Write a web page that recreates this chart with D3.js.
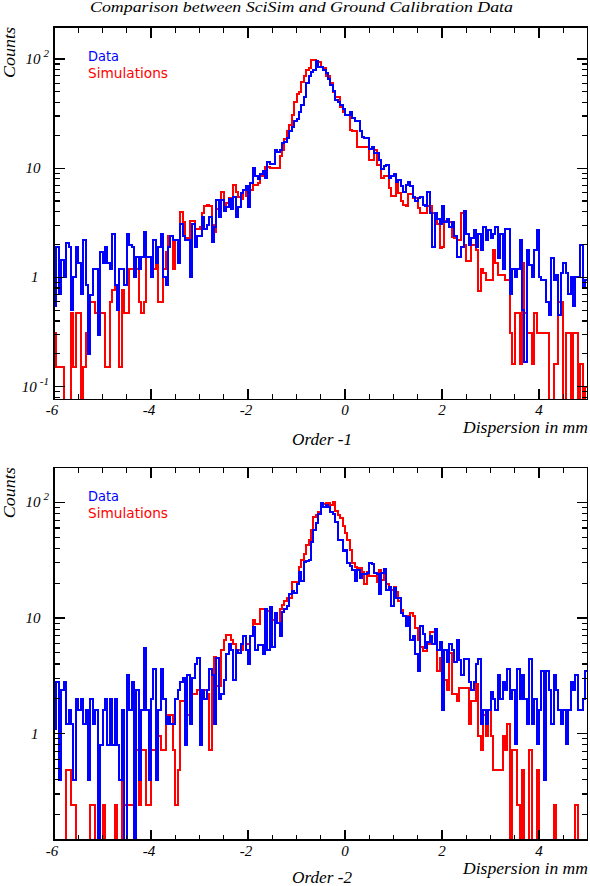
<!DOCTYPE html>
<html><head><meta charset="utf-8">
<script src="https://cdn.jsdelivr.net/npm/d3@7"></script>
<style>body{margin:0;background:#fff;}svg{display:block;}</style>
</head><body>
<svg id="chart" width="590" height="886"></svg>
<script>
// ---------------- data ----------------
const xMin = -6, xMax = 5, binWidth = 0.05;
const xTickValues = [-6, -4, -2, 0, 2, 4];
const xTickLabels = ["-6", "-4", "-2", "0", "2", "4"];
const titleText = "Comparison between SciSim and Ground Calibration Data";
const panelNames = ["Order -1", "Order -2"];
const legendNames = ["Data", "Simulations"];

const dataTop = [
0.55,1.9,0.7,1.45,1.0,2.05,1.9,0.5,1.0,1.9,
1.35,0.7,2.2,0.85,0.2,0.69,1.2,1.2,0.3,1.7,
1.35,1.9,1.35,1.2,2.5,0.85,0.5,1.2,1.2,0.85,
2.5,2.0,1.9,1.0,1.55,1.2,1.55,2.6,1.55,1.55,
1.0,2.2,1.35,1.9,2.5,1.0,0.85,1.9,2.4,2.2,
2.2,1.35,3.1,2.4,2.2,2.2,1.0,3.1,1.9,2.4,
2.4,3.6,2.8,3.0,3.6,2.1,2.9,5.1,3.6,5.1,
4.1,4.4,5.2,4.2,5.4,3.6,4.4,5.9,6.3,6.8,
4.4,7.3,10.0,8.4,8.0,8.8,9.4,8.2,11.5,11.0,
11.0,14.7,14.2,14.7,16.9,17.5,19.0,22.0,24.0,27.0,
28,33,38,45,60,70,76,80,95,85,
84,80,74,65,58,51,42,40,38,35,
31,31,33,29,27,27,22,19.5,19,19,
15,15.5,13.8,13.8,11.9,9.9,10.5,10.8,8.1,8.5,
8.9,7.5,7.8,6.8,6.0,7.0,7.5,6.8,5.5,5.0,
5.3,5.5,4.6,4.5,6.0,3.9,1.9,3.9,3.4,3.1,
4.5,3.2,3.4,2.9,3.2,2.4,1.55,1.55,1.9,4.1,
2.5,2.0,2.3,2.7,1.9,2.5,1.8,2.9,2.2,2.7,
2.3,2.5,2.9,1.5,2.5,1.2,2.8,2.8,0.7,1.2,
1.0,1.2,2.2,0.5,0.17,1.8,1.3,1.0,1.8,2.7,
1.0,0.95,0.95,0.6,0.45,1.5,0.95,1.05,0.45,1.1,
1.35,1.1,0.7,1.0,0.55,1.0,1.0,2.0,0.8,0.95
];
const simTop = [
0.31,0.15,0.15,0.15,0,0,0,0.47,0.15,0.47,
0.47,0,0.15,0.31,0.6,0.6,0.6,0.47,0.31,0.47,
0.47,0.15,0.15,0.6,0.77,0.85,0.85,0.15,0.77,0.47,
0.47,1.2,1.2,1.2,1.2,0.6,0.47,0.6,1.55,1.55,
1.1,1.2,1.7,0.6,0.6,1.2,1.7,2.4,2.4,1.2,
2.2,2.2,4.0,3.2,2.2,2.3,3.3,3.3,2.8,2.8,
2.9,3.9,4.5,4.6,4.5,3.0,2.6,4.2,3.8,6.1,
4.6,4.8,5.3,5.3,7.0,6.0,5.4,5.2,6.3,5.6,
6.3,6.3,7.0,7.0,7.3,8.4,8.4,10.3,10.3,10.0,
10.0,10.0,10.0,12.8,14.7,18.5,22,25,31,40,
48,50,62,70,79,82,97,97,93,93,
85,82,70,70,60,50,45,45,36,33,
31,31,22.5,22,22,15.5,15.5,15.5,15.5,15.5,
11.9,11.9,14.7,10.7,10.7,8.1,8.4,8.4,6.6,5.6,
5.6,7.3,5.9,5.0,4.6,4.5,5.8,5.8,5.3,5.3,
4.3,3.9,3.9,3.9,4.5,4.5,3.9,3.3,3.1,1.85,
1.9,3.3,3.2,3.2,2.35,2.3,2.2,2.2,3.86,2.0,
1.4,1.4,2.0,2.0,1.8,0.75,1.2,1.1,0.95,0.95,
0.95,1.8,1.35,1.05,1.05,1.05,0.95,0.95,0.31,0.16,
0.47,0.47,0.16,1.35,0.47,0.31,0.31,0.16,0.47,0.31,
0.31,0.31,0.31,0.31,0,0,0.16,0.16,0.6,0.6,
0,0.31,0.31,0,0.31,0.31,0,0.16,0,0.1
];
const dataBot = [
1.1,2.8,0.4,2.4,2.8,1.2,1.6,1.2,0.4,2.0,
1.6,2.0,1.2,1.6,0.4,2.0,1.2,1.6,0,0.8,
1.6,2.0,0.8,2.0,0.8,2.0,0.8,0.4,1.6,0,
3.2,1.6,2.8,0,2.4,0.4,1.6,5.5,1.6,0.4,
2.0,3.6,0.4,1.6,3.6,2.0,1.2,1.4,1.2,1.2,
2.0,2.4,2.8,3.0,0.8,3.2,1.2,3.0,4.0,4.5,
0.8,2.4,2.0,2.4,3.6,3.2,1.2,4.5,2.0,2.2,
2.9,4.9,6.0,5.3,2.9,5.3,5.0,6.0,7.0,5.3,
4.0,7.0,8.4,5.3,5.8,5.8,4.9,12.0,5.3,12.5,
5.6,11.0,9.0,7.0,11.2,12.0,12.8,16.0,17.0,16.5,
19.5,25.0,21.0,30.5,31.0,31.5,45.8,58.0,66.0,80.0,
98,92,94,92,82,80,68,47,47,38,
39,30,28,26,21,26,22,24,24,24.3,
30,29.5,24.3,24,16.2,24.3,26.5,17.6,18.6,12.8,
18,14.8,15,11,10.5,8.5,10.2,6.5,7.0,4.9,
3.5,8.6,7.3,5.5,6.2,7.0,6.0,8.0,5.3,6.2,
1.6,5.3,4.2,6.0,5.3,4.2,6.4,4.3,3.2,4.4,
4.4,2.8,2.4,2.8,4.0,4.4,1.2,1.6,1.2,1.6,
2.3,2.0,1.6,3.2,2.0,2.8,2.4,3.6,2.0,2.4,
0.82,3.6,2.0,3.2,2.0,1.2,4.4,1.2,2.0,0.82,
1.6,3.5,0.4,3.5,2.4,1.2,3.2,2.4,1.6,1.2,
1.6,0.82,1.6,2.8,2.4,3.2,1.6,1.6,2.0,3.5
];
const simBot = [
0,0,0,0,0,0.48,0.48,0.24,0.24,0,
0,0,0,0,0,0.24,0.24,0,0,0,
0.24,0,0,0,0,0.24,0,0,0.72,0.24,
0.24,0.24,0.24,0.24,0.72,0.24,0.72,0.72,0.24,0.24,
0.72,0.72,0.96,0.96,0.72,0.72,1.45,1.45,1.45,0.72,
0.24,0.48,1.9,1.9,1.45,1.45,2.4,2.2,2.2,2.4,
2.4,2.4,2.4,2.2,0.72,3.1,4.6,2.6,2.6,5.3,
6.5,7.1,7.1,6.4,5.9,5.3,5.3,5.3,7.0,5.9,
5.9,7.0,9.6,8.8,8.8,12.0,12.0,11.5,11.5,11.5,
9.6,9.0,9.0,12.0,13.0,14.0,14.8,14.8,20.6,20.6,
20.0,27.7,31.6,35.7,42.7,47.0,58.0,75.0,78.0,82.0,
92,96,98,98,95,100,84,78,73,63,
54,47,38.5,30,27.7,26.8,26.8,25,19.6,25,
23,23,23,20.6,25.9,21.3,24.3,19.6,18.6,17.3,
18.6,16.8,14,11.8,10.4,10.0,10.5,11.0,10.5,8.2,
6.4,5.6,5.2,5.2,5.9,7.5,7.5,7.5,3.5,4.5,
2.9,2.9,2.4,5.0,2.2,2.2,1.9,2.5,2.5,2.5,
2.5,1.2,1.9,1.9,2.7,0.96,0.72,1.45,0.96,1.6,
0.96,0.48,0.48,0.48,0.48,0.96,0.72,1.2,0,0.72,
0.72,0.24,0,0.48,0,0,0.72,0,0,0.48,
0,0,0,0,0,0,0.24,0,0,0,
0,0,0,0,0,0.24,0,0,0,0
];

// ---------------- layout ----------------
const W = 590, H = 886;
const left = 54, right = 587.5;
const serif = "'Liberation Serif', 'DejaVu Serif', serif";
const sans = "'DejaVu Sans', 'Liberation Sans', sans-serif";

const panels = [
  {top: 27, bottom: 399.3, yDomain: [0.0767, 196], data: dataTop, sim: simTop, name: panelNames[0], nameDy: 46,
   yLabels: [{v:100, b:"10", e:"2"}, {v:10, b:"10"}, {v:1, b:"1"}, {v:0.1, b:"10", e:"-1"}]},
  {top: 467.3, bottom: 840, yDomain: [0.12, 201], data: dataBot, sim: simBot, name: panelNames[1], nameDy: 43,
   yLabels: [{v:100, b:"10", e:"2"}, {v:10, b:"10"}, {v:1, b:"1"}]}
];

const svg = d3.select("#chart");
svg.append("rect").attr("width", W).attr("height", H).attr("fill", "#fff");

svg.append("text").attr("x", 301.5).attr("y", 12).attr("text-anchor", "middle")
  .attr("font-family", serif).attr("font-style", "italic").attr("font-size", 15)
  .attr("textLength", 423).attr("lengthAdjust", "spacingAndGlyphs")
  .text(titleText);

const x = d3.scaleLinear().domain([xMin, xMax]).range([left, right]);
const edges = d3.range(0, dataTop.length + 1).map(i => xMin + i * binWidth);

panels.forEach((p, pi) => {
  const y = d3.scaleLog().domain(p.yDomain).range([p.bottom, p.top]);
  const g = svg.append("g");
  const clipId = "clip" + pi;
  svg.append("defs").append("clipPath").attr("id", clipId)
    .append("rect").attr("x", left).attr("y", p.top).attr("width", right - left).attr("height", p.bottom - p.top);

  const yv = v => v > 0 ? y(v) : p.bottom + 20;
  const line = d3.line().x(d => x(d[0])).y(d => yv(d[1])).curve(d3.curveStepAfter);
  const pts = arr => {
    const a = arr.map((v, i) => [edges[i], v]);
    a.push([edges[arr.length], arr[arr.length - 1]]);
    return a;
  };
  const hg = g.append("g").attr("clip-path", `url(#${clipId})`);
  hg.append("path").attr("d", line(pts(p.sim))).attr("fill", "none")
    .attr("stroke", "#ff0000").attr("stroke-width", 2).attr("shape-rendering", "crispEdges");
  hg.append("path").attr("d", line(pts(p.data))).attr("fill", "none")
    .attr("stroke", "#0000ff").attr("stroke-width", 2).attr("shape-rendering", "crispEdges");

  // frame
  g.append("rect").attr("x", left).attr("y", p.top).attr("width", right - left).attr("height", p.bottom - p.top)
    .attr("fill", "none").attr("stroke", "#000").attr("stroke-width", 1.5).attr("shape-rendering", "crispEdges");

  // x ticks
  const minorX = d3.range(xMin * 2, xMax * 2 + 1).map(k => k / 2);
  minorX.forEach(t => {
    const major = xTickValues.includes(t);
    const len = major ? 10.5 : 5.5;
    const xx = x(t);
    g.append("line").attr("x1", xx).attr("x2", xx).attr("y1", p.bottom).attr("y2", p.bottom - len)
      .attr("stroke", "#000").attr("stroke-width", 1.2).attr("shape-rendering", "crispEdges");
    g.append("line").attr("x1", xx).attr("x2", xx).attr("y1", p.top).attr("y2", p.top + len)
      .attr("stroke", "#000").attr("stroke-width", 1.2).attr("shape-rendering", "crispEdges");
  });
  xTickValues.forEach((t, i) => {
    g.append("text").attr("x", x(t) + (t < 0 ? -2 : 0)).attr("y", p.bottom + 16).attr("text-anchor", "middle")
      .attr("font-family", serif).attr("font-style", "italic").attr("font-size", 15)
      .text(xTickLabels[i]);
  });

  // y ticks
  const yt = [];
  for (let d = -2; d <= 2; d++) for (let k = 1; k <= 9; k++) {
    const v = k * Math.pow(10, d);
    if (v >= p.yDomain[0] && v <= p.yDomain[1]) yt.push({v, major: k === 1});
  }
  yt.forEach(t => {
    const yy = y(t.v), len = t.major ? 10.5 : 6;
    g.append("line").attr("x1", left).attr("x2", left + len).attr("y1", yy).attr("y2", yy)
      .attr("stroke", "#000").attr("stroke-width", 1.2).attr("shape-rendering", "crispEdges");
    g.append("line").attr("x1", right).attr("x2", right - len).attr("y1", yy).attr("y2", yy)
      .attr("stroke", "#000").attr("stroke-width", 1.2).attr("shape-rendering", "crispEdges");
  });
  p.yLabels.forEach(l => {
    const yy = y(l.v);
    const t = g.append("text").attr("y", yy + 5).attr("text-anchor", "end")
      .attr("font-family", serif).attr("font-style", "italic").attr("font-size", 15);
    if (l.e) {
      t.attr("x", 49);
      t.append("tspan").text(l.b);
      t.append("tspan").attr("dx", 3).attr("dy", -7).attr("font-size", 11).text(l.e);
    } else {
      t.attr("x", l.b === "1" ? 38.5 : 40.5).text(l.b);
    }
  });

  // axis titles
  g.append("text").attr("transform", `translate(15,${p.top + 51}) rotate(-90)`)
    .attr("font-family", serif).attr("font-style", "italic").attr("font-size", 17)
    .attr("textLength", 51).attr("lengthAdjust", "spacingAndGlyphs").text("Counts");
  g.append("text").attr("x", 588).attr("y", p.bottom + 34).attr("text-anchor", "end")
    .attr("font-family", serif).attr("font-style", "italic").attr("font-size", 17)
    .attr("textLength", 125).attr("lengthAdjust", "spacingAndGlyphs").text("Dispersion in mm");
  g.append("text").attr("x", 322).attr("y", p.bottom + p.nameDy).attr("text-anchor", "middle")
    .attr("font-family", serif).attr("font-style", "italic").attr("font-size", 17)
    .attr("textLength", 60).attr("lengthAdjust", "spacingAndGlyphs").text(p.name);

  // legend
  g.append("text").attr("x", 88).attr("y", p.top + 34).attr("fill", "#0000ff")
    .attr("font-family", sans).attr("font-size", 14)
    .attr("textLength", 31).attr("lengthAdjust", "spacingAndGlyphs").text(legendNames[0]);
  g.append("text").attr("x", 88).attr("y", p.top + 51).attr("fill", "#ff0000")
    .attr("font-family", sans).attr("font-size", 14)
    .attr("textLength", 80).attr("lengthAdjust", "spacingAndGlyphs").text(legendNames[1]);
});
</script>
</body></html>
